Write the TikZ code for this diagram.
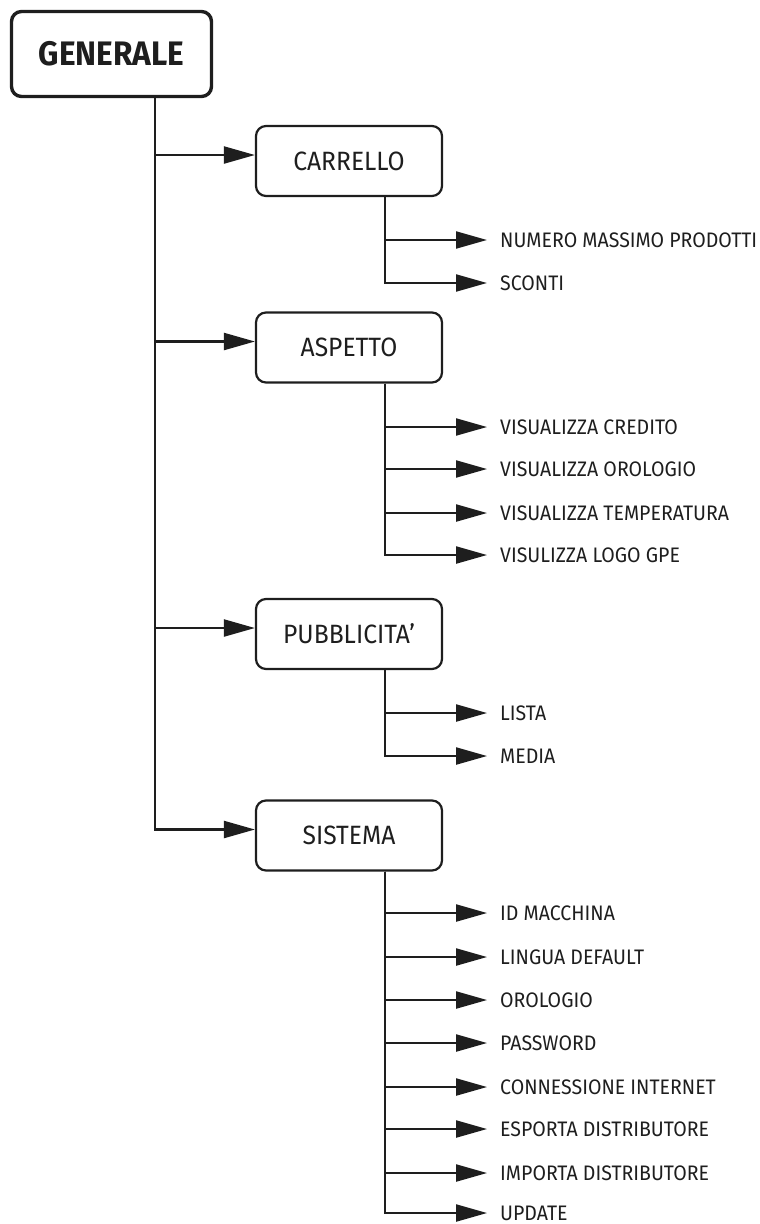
\documentclass[tikz,border=0pt]{standalone}
\usepackage{fontspec}
\setmainfont{Fira Sans}[FakeStretch=0.93]
\usetikzlibrary{arrows.meta}
\definecolor{ink}{HTML}{1E1E1E}

\begin{document}
\begin{tikzpicture}[line join=miter,x=1pt,y=-1pt,
  >={Triangle[length=31pt,width=17pt]},
  link/.style={->,draw=ink,line width=2.2pt},
  topbox/.style={draw=ink,line width=3.4pt,rounded corners=10pt,minimum width=200pt,minimum height=85pt,font=\fontsize{34}{36}\selectfont\bfseries,text=ink},
  box/.style={draw=ink,line width=2.2pt,rounded corners=10pt,minimum width=186pt,minimum height=70pt,font=\fontsize{26.5}{28}\selectfont,text=ink},
  leaf/.style={anchor=west,inner sep=0pt,font=\fontsize{21}{24}\selectfont,text=ink}]
\useasboundingbox (0,0) rectangle (760,1224);
% tree lines
\coordinate (trunk) at (155,0);
\coordinate (sub) at (385,0);
% boxes
\node[topbox] (gen) at (111.5,54) {GENERALE};
\node[box] (carr) at (349,161) {CARRELLO};
\node[box] (asp) at (349,347.5) {ASPETTO};
\node[box] (pub) at (349,634) {PUBBLICITA'};
\node[box] (sis) at (349,835.5) {SISTEMA};
% leaves
\node[leaf] (nmp) at (500,240) {NUMERO MASSIMO PRODOTTI};
\node[leaf] (sco) at (500,283) {SCONTI};
\node[leaf] (vcr) at (500,427) {VISUALIZZA CREDITO};
\node[leaf] (vor) at (500,469) {VISUALIZZA OROLOGIO};
\node[leaf] (vte) at (500,513) {VISUALIZZA TEMPERATURA};
\node[leaf] (vlo) at (500,555) {VISULIZZA LOGO GPE};
\node[leaf] (lis) at (500,713) {LISTA};
\node[leaf] (med) at (500,756) {MEDIA};
\node[leaf] (idm) at (500,913) {ID MACCHINA};
\node[leaf] (lin) at (500,957) {LINGUA DEFAULT};
\node[leaf] (oro) at (500,1000) {OROLOGIO};
\node[leaf] (pas) at (500,1043) {PASSWORD};
\node[leaf] (con) at (500,1087) {CONNESSIONE INTERNET};
\node[leaf] (esp) at (500,1129) {ESPORTA DISTRIBUTORE};
\node[leaf] (imp) at (500,1173) {IMPORTA DISTRIBUTORE};
\node[leaf] (upd) at (500,1213) {UPDATE};
% main branches
\draw[link] (gen.south -| trunk) |- ([yshift=6pt]carr.west);
\draw[link] (gen.south -| trunk) |- ([yshift=6pt]asp.west);
\draw[link] (gen.south -| trunk) |- ([yshift=6pt]pub.west);
\draw[link] (gen.south -| trunk) |- ([yshift=6pt]sis.west);
% sub branches
\draw[link] (carr.south -| sub) |- ([xshift=-13pt]nmp.west);
\draw[link] (carr.south -| sub) |- ([xshift=-13pt]sco.west);
\draw[link] (asp.south -| sub) |- ([xshift=-13pt]vcr.west);
\draw[link] (asp.south -| sub) |- ([xshift=-13pt]vor.west);
\draw[link] (asp.south -| sub) |- ([xshift=-13pt]vte.west);
\draw[link] (asp.south -| sub) |- ([xshift=-13pt]vlo.west);
\draw[link] (pub.south -| sub) |- ([xshift=-13pt]lis.west);
\draw[link] (pub.south -| sub) |- ([xshift=-13pt]med.west);
\draw[link] (sis.south -| sub) |- ([xshift=-13pt]idm.west);
\draw[link] (sis.south -| sub) |- ([xshift=-13pt]lin.west);
\draw[link] (sis.south -| sub) |- ([xshift=-13pt]oro.west);
\draw[link] (sis.south -| sub) |- ([xshift=-13pt]pas.west);
\draw[link] (sis.south -| sub) |- ([xshift=-13pt]con.west);
\draw[link] (sis.south -| sub) |- ([xshift=-13pt]esp.west);
\draw[link] (sis.south -| sub) |- ([xshift=-13pt]imp.west);
\draw[link] (sis.south -| sub) |- ([xshift=-13pt]upd.west);
\end{tikzpicture}
\end{document}
